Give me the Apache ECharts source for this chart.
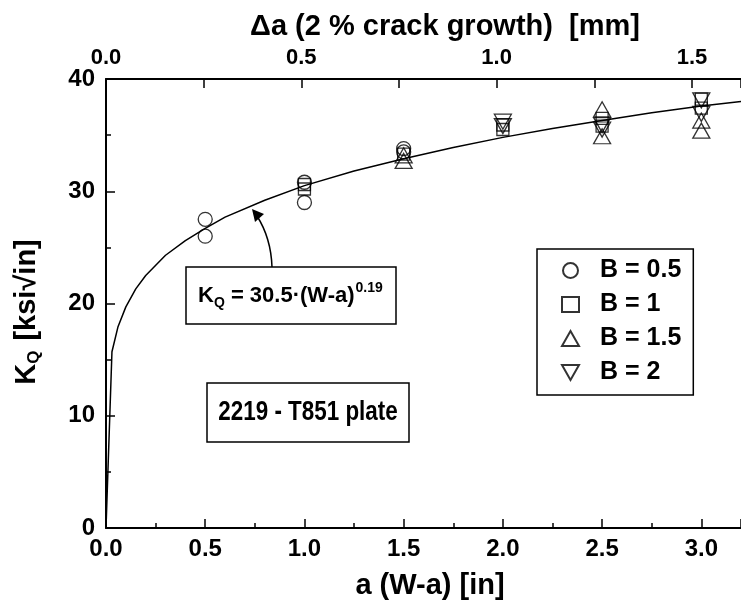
<!DOCTYPE html>
<html>
<head>
<meta charset="utf-8">
<script src="https://cdn.jsdelivr.net/npm/echarts@6/dist/echarts.min.js"></script>
<style>
  html, body { margin: 0; padding: 0; background: #fff; }
  #chart { width: 741px; height: 601px; }
</style>
</head>
<body>
<div id="chart"></div>
<script>
// fitted curve K_Q = 30.5*(W-a)^0.19
const fitA = [0, 0.03, 0.06, 0.1, 0.15, 0.2, 0.3, 0.4, 0.5, 0.6, 0.8, 1.0, 1.25, 1.5, 1.75, 2.0, 2.25, 2.5, 2.75, 3.0, 3.2]
const fitK = [0, 15.7, 17.9, 19.7, 21.3, 22.5, 24.3, 25.6, 26.7, 27.7, 29.2, 30.5, 31.8, 32.9, 33.9, 34.8, 35.6, 36.3, 37.0, 37.6, 38.0]

// measured K_Q per thickness B
const b05A = [0.5, 0.5, 1.0, 1.0, 1.5, 1.5]
const b05K = [27.5, 26.0, 30.8, 29.0, 33.8, 33.5]
const b1A = [1.0, 1.0, 1.5, 2.0, 2.0, 2.5, 2.5, 3.0, 3.0]
const b1K = [30.6, 30.2, 33.3, 35.9, 35.5, 36.5, 35.8, 38.2, 37.4]
const b15A = [1.5, 1.5, 2.5, 2.5, 3.0, 3.0]
const b15K = [33.2, 32.7, 37.3, 34.9, 36.3, 35.4]
const b2A = [2.0, 2.0, 2.5, 2.5, 3.0, 3.0]
const b2K = [36.2, 35.8, 35.9, 35.5, 38.1, 36.9]

const xMax = 3.2
const mmPerIn = 0.508 // 2 % of a, in mm

const FONT = '"Liberation Sans", Arial, Helvetica, sans-serif'

const pairs = (xs, ys) => xs.map((x, i) => [x, ys[i]])

const markStyle = { color: 'transparent', borderColor: '#000', borderWidth: 1.3 }
const downTriangle = 'path://M0,0 L16,0 L8,14 Z'

const axisCommon = {
  axisLine: { show: true, onZero: false, lineStyle: { color: '#000', width: 2 } },
  axisTick: { show: true, inside: true, length: 9, lineStyle: { color: '#000', width: 1.5 } },
  minorTick: { show: true, splitNumber: 2, length: 5, lineStyle: { color: '#000', width: 1.5 } },
  splitLine: { show: false },
  axisLabel: { color: '#000', fontFamily: FONT, fontWeight: 'bold', fontSize: 24, showMaxLabel: false }
}

const myChart = echarts.init(document.getElementById('chart'))
const option = {
  animation: false,
  backgroundColor: '#fff',
  textStyle: { fontFamily: FONT },
  grid: { left: 106, top: 79, width: 637, height: 449 },
  xAxis: [
    {
      ...axisCommon,
      type: 'value',
      position: 'bottom',
      min: 0,
      max: xMax,
      interval: 0.5,
      axisLabel: { ...axisCommon.axisLabel, margin: 9, formatter: v => v.toFixed(1) }
    },
    {
      ...axisCommon,
      type: 'value',
      position: 'top',
      min: 0,
      max: xMax * mmPerIn,
      interval: 0.5,
      minorTick: { ...axisCommon.minorTick, length: 9 },
      axisLabel: { ...axisCommon.axisLabel, fontSize: 22, margin: 10, formatter: v => v.toFixed(1) }
    }
  ],
  yAxis: {
    ...axisCommon,
    type: 'value',
    min: 0,
    max: 40,
    interval: 10,
    axisLabel: { ...axisCommon.axisLabel, showMaxLabel: true, margin: 11 }
  },
  legend: {
    orient: 'vertical',
    left: 537,
    top: 249,
    padding: [9, 12, 10, 24],
    itemGap: 9,
    itemWidth: 17,
    itemHeight: 15,
    borderColor: '#000',
    borderWidth: 1.5,
    backgroundColor: '#fff',
    textStyle: { color: '#000', fontFamily: FONT, fontWeight: 'bold', fontSize: 25, padding: [0, 0, 0, 16] },
    data: ['B = 0.5', 'B = 1', 'B = 1.5', 'B = 2']
  },
  graphic: [
    // axis titles
    {
      type: 'text',
      x: 445,
      y: 27,
      style: { text: 'Δa (2 % crack growth)  [mm]', align: 'center', verticalAlign: 'middle', fill: '#000', font: 'bold 29px ' + FONT }
    },
    {
      type: 'text',
      x: 430,
      y: 586,
      style: { text: 'a (W-a) [in]', align: 'center', verticalAlign: 'middle', fill: '#000', font: 'bold 29px ' + FONT }
    },
    {
      type: 'text',
      x: 27,
      y: 312,
      rotation: Math.PI / 2,
      style: {
        text: '{b|K}{s|Q}{b| [ksi√in]}',
        align: 'center',
        verticalAlign: 'middle',
        rich: {
          b: { fill: '#000', fontFamily: FONT, fontWeight: 'bold', fontSize: 29 },
          s: { fill: '#000', fontFamily: FONT, fontWeight: 'bold', fontSize: 17, padding: [14, 2, 0, 0] }
        }
      }
    },
    // curved arrow pointing at the fit
    {
      type: 'bezierCurve',
      shape: { x1: 272, y1: 267, cpx1: 271, cpy1: 238, x2: 257, y2: 216 },
      style: { stroke: '#000', lineWidth: 1.5, fill: null },
      z: 10
    },
    {
      type: 'polygon',
      shape: { points: [[252, 209], [264, 214], [255, 222]] },
      style: { fill: '#000' },
      z: 10
    },
    {
      type: 'rect',
      shape: { x: 186, y: 267, width: 210, height: 57 },
      style: { fill: '#fff', stroke: '#000', lineWidth: 1.5 },
      z: 10
    },
    {
      type: 'text',
      x: 198,
      y: 296,
      style: {
        text: '{b|K}{s|Q}{b| = 30.5·(W-a)}{p|0.19}',
        verticalAlign: 'middle',
        rich: {
          b: { fill: '#000', fontFamily: FONT, fontWeight: 'bold', fontSize: 22 },
          s: { fill: '#000', fontFamily: FONT, fontWeight: 'bold', fontSize: 14, padding: [14, 0, 0, 0] },
          p: { fill: '#000', fontFamily: FONT, fontWeight: 'bold', fontSize: 14, padding: [0, 0, 16, 1] }
        }
      },
      z: 11
    },
    {
      type: 'rect',
      shape: { x: 207, y: 383, width: 202, height: 59 },
      style: { fill: '#fff', stroke: '#000', lineWidth: 1.5 },
      z: 10
    },
    {
      type: 'text',
      x: 308,
      y: 413,
      scaleX: 0.83,
      style: { text: '2219 - T851 plate', align: 'center', verticalAlign: 'middle', fill: '#000', font: 'bold 27px ' + FONT },
      z: 11
    }
  ],
  series: [
    {
      name: 'fit',
      type: 'line',
      data: pairs(fitA, fitK),
      showSymbol: false,
      lineStyle: { color: '#000', width: 1.5 },
      z: 1
    },
    {
      name: 'B = 0.5',
      type: 'scatter',
      symbol: 'circle',
      symbolSize: 14,
      itemStyle: markStyle,
      data: pairs(b05A, b05K),
      z: 3
    },
    {
      name: 'B = 1',
      type: 'scatter',
      symbol: 'rect',
      symbolSize: 12,
      itemStyle: markStyle,
      data: pairs(b1A, b1K),
      z: 3
    },
    {
      name: 'B = 1.5',
      type: 'scatter',
      symbol: 'triangle',
      symbolSize: [17, 15],
      itemStyle: markStyle,
      data: pairs(b15A, b15K),
      z: 3
    },
    {
      name: 'B = 2',
      type: 'scatter',
      symbol: downTriangle,
      symbolSize: [17, 15],
      itemStyle: markStyle,
      data: pairs(b2A, b2K),
      z: 3
    }
  ]
}
myChart.setOption(option)
</script>
</body>
</html>
